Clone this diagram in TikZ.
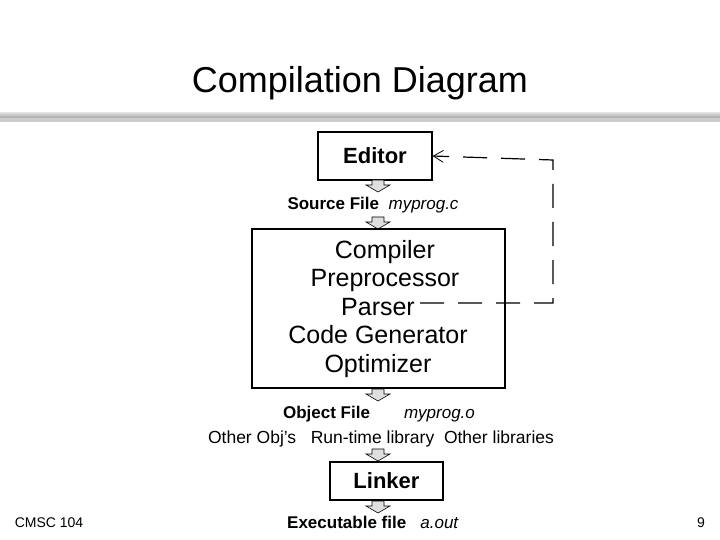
\documentclass[tikz,border=0pt]{standalone}
\usepackage{fontspec}
\setmainfont{Liberation Sans}
\usetikzlibrary{arrows.meta}
\begin{document}
\begin{tikzpicture}[x=1pt,y=-1pt,
  box/.style={draw,line width=1.2pt,inner sep=0pt},
  lbl/.style={inner sep=0pt,font=\fontsize{17}{20}\selectfont},
  blk/.pic={\filldraw[fill=gray!25,draw=black,line width=0.6pt] (-6,-6)--(6,-6)--(6,-1)--(12,-1)--(0,6)--(-12,-1)--(-6,-1)--cycle;}]
\useasboundingbox (0,0) rectangle (720,540);
\fill[white] (0,0) rectangle (720,540);
\node[inner sep=0pt,font=\fontsize{36}{40}\selectfont] (title) at (360,83) {Compilation Diagram};
\shade[top color=gray!30,bottom color=gray!70] (0,113) rectangle (720,118);
\fill[gray!40] (0,118) rectangle (720,122);
\node[box,minimum width=114,minimum height=48,font=\fontsize{22}{26}\selectfont\bfseries] (ed) at (375,156) {Editor};
\pic at (378,186) {blk};
\node[lbl] (src) at (373,205) {\textbf{Source File}\ \ \textit{myprog.c}};
\pic at (378,223) {blk};
\node[box,minimum width=253,minimum height=159] (comp) at (378.5,308.5) {};
\node[inner sep=0pt,align=center,font=\fontsize{25}{28.5}\selectfont] (ctext) at (378,309) {\ \ Compiler\\ \ \ Preprocessor\\ Parser\\Code Generator\\Optimizer};
\coordinate (p) at (420,303);
\coordinate (c1) at (553,303);
\coordinate (c2) at (553,160);
\draw[line width=1.2pt,dash pattern=on 24pt off 14pt,-{Straight Barb[length=10pt,width=12pt,line width=0.8pt]}] (p)--(c1)--(c2)--(ed.east);
\pic at (378,395) {blk};
\node[lbl] (obj) at (379,414) {\textbf{Object File}\qquad\textit{myprog.o}};
\node[inner sep=0pt,font=\fontsize{17.5}{20}\selectfont] (others) at (381,439) {Other Obj’s\ \ \ Run-time library\ \ Other libraries};
\pic at (378,455) {blk};
\node[box,minimum width=113,minimum height=38,font=\fontsize{22}{26}\selectfont\bfseries] (lk) at (386.5,481) {Linker};
\pic at (378,507) {blk};
\node[lbl] (exe) at (373,522) {\textbf{Executable file}\ \ \ \textit{a.out}};
\node[inner sep=0pt,font=\fontsize{14}{16}\selectfont] (cm) at (49,523) {CMSC 104};
\node[inner sep=0pt,font=\fontsize{14}{16}\selectfont] (pg) at (701,523) {9};
\end{tikzpicture}
\end{document}
